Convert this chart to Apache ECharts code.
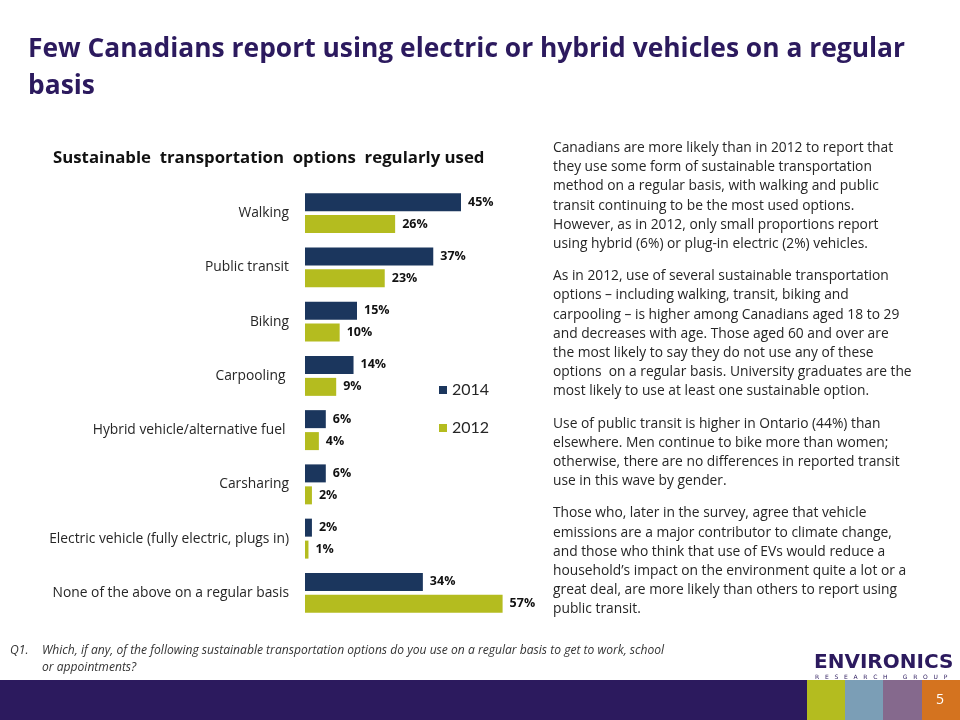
<!DOCTYPE html>
<html>
<head>
<meta charset="utf-8">
<script src="https://cdn.jsdelivr.net/npm/echarts@6/dist/echarts.min.js"></script>
<style>
html,body{margin:0;padding:0;background:#fff;}
#c{width:960px;height:720px;}
</style>
</head>
<body>
<div id="c"></div>
<script>
const categories = [
  'Walking',
  'Public transit',
  'Biking',
  'Carpooling ',
  'Hybrid vehicle/alternative fuel ',
  'Carsharing',
  'Electric vehicle (fully electric, plugs in)',
  'None of the above on a regular basis'
];
const values2014 = [45, 37, 15, 14, 6, 6, 2, 34];
const values2012 = [26, 23, 10, 9, 4, 2, 1, 57];
const seriesNames = ['2014', '2012'];

const slideTitle = ['Few Canadians report using electric or hybrid vehicles on a regular', 'basis'];
const chartTitle = 'Sustainable  transportation  options  regularly used';
const paragraphs = [
  ['Canadians are more likely than in 2012 to report that',
   'they use some form of sustainable transportation',
   'method on a regular basis, with walking and public',
   'transit continuing to be the most used options.',
   'However, as in 2012, only small proportions report',
   'using hybrid (6%) or plug-in electric (2%) vehicles.'],
  ['As in 2012, use of several sustainable transportation',
   'options \u2013 including walking, transit, biking and',
   'carpooling \u2013 is higher among Canadians aged 18 to 29',
   'and decreases with age. Those aged 60 and over are',
   'the most likely to say they do not use any of these',
   'options  on a regular basis. University graduates are the',
   'most likely to use at least one sustainable option.'],
  ['Use of public transit is higher in Ontario (44%) than',
   'elsewhere. Men continue to bike more than women;',
   'otherwise, there are no differences in reported transit',
   'use in this wave by gender.'],
  ['Those who, later in the survey, agree that vehicle',
   'emissions are a major contributor to climate change,',
   'and those who think that use of EVs would reduce a',
   'household\u2019s impact on the environment quite a lot or a',
   'great deal, are more likely than others to report using',
   'public transit.']
];
const footnote = ['Which, if any, of the following sustainable transportation options do you use on a regular basis to get to work, school', 'or appointments?'];

const NAVY = '#1B365D';
const OLIVE = '#B4BC1F';
const PURPLE = '#2C1A5E';
const FONT = '"Open Sans", Lato, sans-serif';

const graphics = [];
function txt(x, y, text, font, fill, align) {
  graphics.push({type:'text', x:x, y:y, style:{text:text, font:font, fill:fill, align:align || 'left', verticalAlign:'middle'}});
}
// slide title
slideTitle.forEach((t, i) => txt(28, 49 + i*37, t, 'bold 26.4px ' + FONT, PURPLE));
// chart title
txt(53, 158, chartTitle, 'bold 16.8px ' + FONT, '#111');
// paragraphs
let y = 148;
paragraphs.forEach(p => {
  p.forEach(line => { txt(553, y, line, '13.8px ' + FONT, '#262626'); y += 19.2; });
  y += 13;
});
// footnote
txt(10, 651, 'Q1.', 'italic 12.1px ' + FONT, '#333');
footnote.forEach((t, i) => txt(42, 651 + i*17, t, 'italic 12.1px ' + FONT, '#333'));
// bottom band
graphics.push({type:'rect', shape:{x:0, y:680, width:807, height:40}, style:{fill:PURPLE}});
graphics.push({type:'rect', shape:{x:807, y:680, width:38, height:40}, style:{fill:'#B4BC1F'}});
graphics.push({type:'rect', shape:{x:845, y:680, width:38, height:40}, style:{fill:'#7B9EB6'}});
graphics.push({type:'rect', shape:{x:883, y:680, width:39, height:40}, style:{fill:'#85698D'}});
graphics.push({type:'rect', shape:{x:922, y:680, width:38, height:40}, style:{fill:'#D4731F'}});
txt(940, 700, '5', '14px ' + FONT, '#fff', 'center');
// logo
txt(814, 663, 'ENVIRONICS', 'bold 20px "DejaVu Sans", sans-serif', PURPLE);
txt(815, 677, 'R   E   S   E   A   R   C   H        G   R   O   U   P', '6px "DejaVu Sans", sans-serif', PURPLE);

const chart = echarts.init(document.getElementById('c'), null, {renderer:'canvas'});
chart.setOption({
  backgroundColor:'#fff',
  animation:false,
  textStyle:{fontFamily:FONT},
  grid:{left:305, top:186, width:208, height:434, containLabel:false},
  legend:{
    orient:'vertical', left:434, top:377,
    itemWidth:8, itemHeight:8, itemGap:22, icon:'rect',
    data:seriesNames,
    textStyle:{fontSize:16, color:'#262626', fontFamily:'Lato, sans-serif', lineHeight:16}
  },
  xAxis:{type:'value', min:0, max:60, show:false},
  yAxis:{
    type:'category', data:categories, inverse:true,
    axisLine:{show:false}, axisTick:{show:false}, splitLine:{show:false},
    axisLabel:{margin:16, fontSize:13.8, color:'#262626', fontFamily:FONT}
  },
  series:[
    {name:seriesNames[0], type:'bar', data:values2014, barWidth:18, barGap:'22%',
     itemStyle:{color:NAVY},
     label:{show:true, position:'right', distance:7, formatter:'{c}%', fontWeight:'bold', fontSize:12.5, color:'#111', fontFamily:FONT}},
    {name:seriesNames[1], type:'bar', data:values2012, barWidth:18, barGap:'22%',
     itemStyle:{color:OLIVE},
     label:{show:true, position:'right', distance:7, formatter:'{c}%', fontWeight:'bold', fontSize:12.5, color:'#111', fontFamily:FONT}}
  ],
  graphic:graphics
});
</script>
</body>
</html>
